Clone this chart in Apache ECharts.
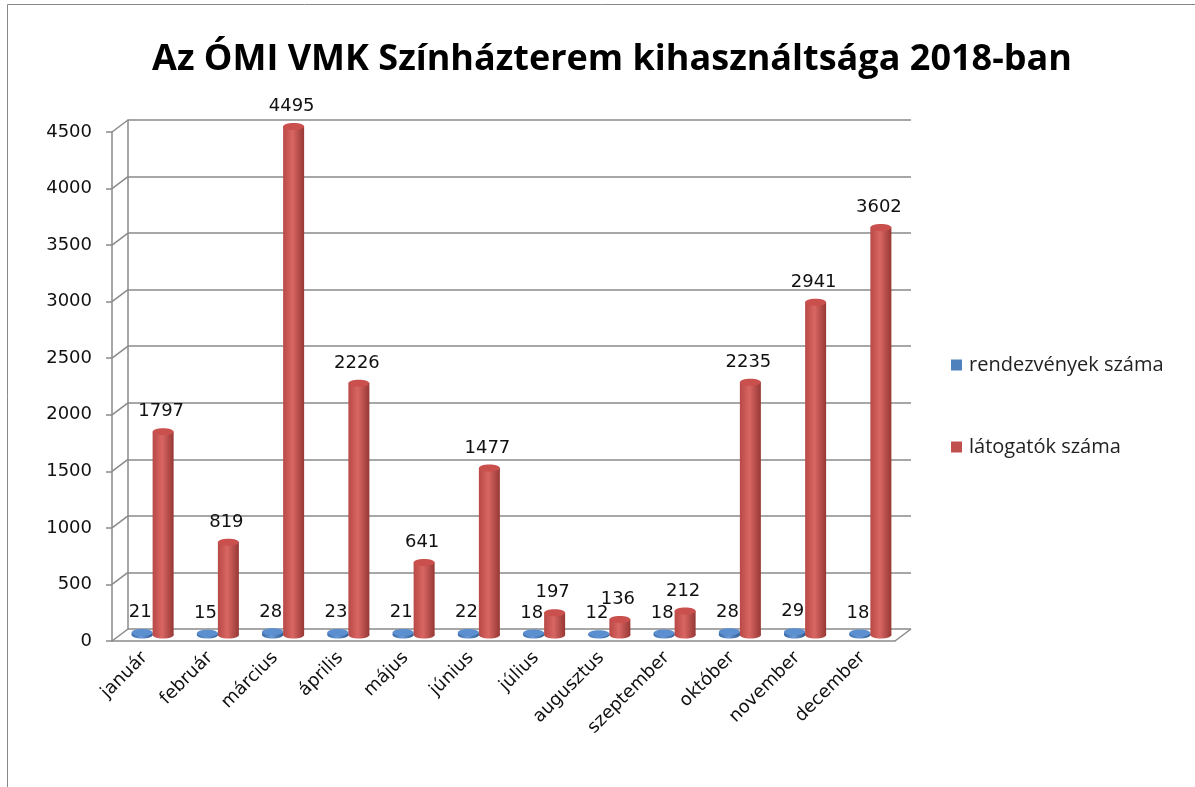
<!DOCTYPE html>
<html>
<head>
<meta charset="utf-8">
<script src="https://cdn.jsdelivr.net/npm/echarts@6/dist/echarts.min.js"></script>
<style>
  html, body { margin: 0; padding: 0; background: #fff; }
  #chart { width: 1195px; height: 787px; }
</style>
</head>
<body>
<div id="chart"></div>
<script>
const months = ['január', 'február', 'március', 'április', 'május', 'június', 'július', 'augusztus', 'szeptember', 'október', 'november', 'december']
const events = [21, 15, 28, 23, 21, 22, 18, 12, 18, 28, 29, 18]
const visitors = [1797, 819, 4495, 2226, 641, 1477, 197, 136, 212, 2235, 2941, 3602]
const yTicks = [0, 500, 1000, 1500, 2000, 2500, 3000, 3500, 4000, 4500]

const chart = echarts.init(document.getElementById('chart'))

// 3D eltolás (hátsó fal)
const DX = 16
const DY = -12
const GRID = { left: 112, top: 132, width: 783, height: 509 }
const BAR_W = 21
const lineColor = '#8a8a8a'
const numFont = 'DejaVu Sans, Verdana, sans-serif'

function cylinder(offset, colors) {
  return function (params, api) {
    const i = api.value(0)
    const v = api.value(1)
    const base = api.coord([i, 0])
    const top = api.coord([i, v])
    const cx = base[0] + offset
    const rx = BAR_W / 2
    const ry = 3.5
    const side = new echarts.graphic.LinearGradient(0, 0, 1, 0, [
      { offset: 0, color: colors[0] },
      { offset: 0.45, color: colors[1] },
      { offset: 1, color: colors[2] }
    ])
    return {
      type: 'group',
      children: [
        { type: 'ellipse', shape: { cx: cx, cy: base[1], rx: rx, ry: ry }, style: { fill: side } },
        { type: 'rect', shape: { x: cx - rx, y: top[1], width: BAR_W, height: base[1] - top[1] }, style: { fill: side } },
        { type: 'ellipse', shape: { cx: cx, cy: top[1], rx: rx, ry: ry }, style: { fill: colors[3] } },
        {
          type: 'text',
          style: {
            text: String(v), x: cx - 2, y: top[1] - 11,
            align: 'center', verticalAlign: 'bottom',
            fontFamily: numFont, fontSize: 18, fill: '#111'
          }
        }
      ]
    }
  }
}

const option = {
  animation: false,
  title: {
    text: 'Az ÓMI VMK Színházterem kihasználtsága 2018-ban',
    left: 607,
    textAlign: 'center',
    top: 37,
    textStyle: { fontFamily: 'Open Sans', fontWeight: 'bold', fontSize: 36, color: '#000' }
  },
  legend: {
    orient: 'vertical',
    left: 946,
    top: 350,
    itemGap: 62,
    itemWidth: 11,
    itemHeight: 11,
    icon: 'rect',
    textStyle: { fontFamily: 'Open Sans', fontSize: 20, color: '#222', padding: [0, 0, 0, 2] },
    data: ['rendezvények száma', 'látogatók száma']
  },
  graphic: [
    { type: 'rect', shape: { x: 7.5, y: 4.5, width: 1200, height: 800 }, style: { fill: 'none', stroke: '#888', lineWidth: 1 }, silent: true }
  ],
  grid: [
    { left: GRID.left, top: GRID.top, width: GRID.width, height: GRID.height },
    { left: GRID.left + DX, top: GRID.top + DY, width: GRID.width, height: GRID.height },
    { left: GRID.left + DX / 2, top: GRID.top + DY / 2, width: GRID.width, height: GRID.height }
  ],
  xAxis: [
    {
      type: 'category', gridIndex: 0, data: months,
      axisLine: { lineStyle: { color: lineColor, width: 1.5 } },
      axisTick: { length: 8, lineStyle: { color: lineColor, width: 1.5 } },
      axisLabel: { rotate: 45, margin: 14, fontFamily: numFont, fontSize: 18, color: '#111', interval: 0 }
    },
    { type: 'category', gridIndex: 1, data: months, show: false },
    { type: 'category', gridIndex: 2, data: months, show: false }
  ],
  yAxis: [
    {
      type: 'value', gridIndex: 0, min: 0, max: 4500, interval: 500,
      axisLine: { show: true, lineStyle: { color: lineColor, width: 1.5 } },
      axisTick: { show: true, length: 6, lineStyle: { color: lineColor, width: 1.5 } },
      axisLabel: { margin: 20, fontFamily: numFont, fontSize: 18, color: '#111', formatter: v => String(v) },
      splitLine: { show: false }
    },
    {
      type: 'value', gridIndex: 1, min: 0, max: 4500, interval: 500,
      axisLine: { show: true, lineStyle: { color: lineColor, width: 1.5 } },
      axisTick: { show: false },
      axisLabel: { show: false },
      splitLine: { show: true, lineStyle: { color: lineColor, width: 1.5 } }
    },
    { type: 'value', gridIndex: 2, min: 0, max: 4500, interval: 500, show: false, splitLine: { show: false } }
  ],
  series: [
    {
      // ferde összekötők a bal oldali tengely és a hátsó fal között
      type: 'custom',
      xAxisIndex: 0,
      yAxisIndex: 0,
      silent: true,
      data: yTicks.map(v => [0, v]),
      renderItem: function (params, api) {
        const y = api.coord([0, api.value(1)])[1]
        const x0 = params.coordSys.x
        const children = [
          { type: 'line', shape: { x1: x0, y1: y, x2: x0 + DX, y2: y + DY }, style: { stroke: lineColor, lineWidth: 1.5 } }
        ]
        if (api.value(1) === 0) {
          const x1 = x0 + params.coordSys.width
          children.push({ type: 'line', shape: { x1: x1, y1: y, x2: x1 + DX, y2: y + DY }, style: { stroke: lineColor, lineWidth: 1.5 } })
        }
        return { type: 'group', children: children }
      }
    },
    {
      name: 'rendezvények száma',
      type: 'custom',
      xAxisIndex: 2,
      yAxisIndex: 2,
      itemStyle: { color: '#4F81BD' },
      data: events.map((v, i) => [i, v]),
      renderItem: cylinder(-BAR_W / 2, ['#3a6aa6', '#6a9ad6', '#2f5a90', '#5b8fd0'])
    },
    {
      name: 'látogatók száma',
      type: 'custom',
      xAxisIndex: 2,
      yAxisIndex: 2,
      itemStyle: { color: '#C0504D' },
      data: visitors.map((v, i) => [i, v]),
      renderItem: cylinder(BAR_W / 2, ['#b84946', '#d96663', '#963835', '#c9504d'])
    }
  ]
}

chart.setOption(option)
</script>
</body>
</html>
